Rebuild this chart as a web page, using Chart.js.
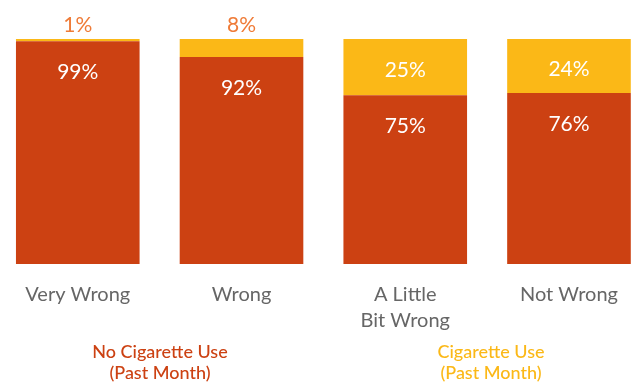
<!DOCTYPE html>
<html lang="en">
<head>
    <meta charset="UTF-8">
    <title>Cigarette Use by Perceived Wrongness</title>
    <script src="https://cdn.jsdelivr.net/npm/chart.js"></script>
    <style>
        body { margin: 0; background: #fff; }
        .wrap { position: relative; width: 636px; height: 385px; }
        .legend {
            position: absolute; top: 341px; width: 220px; text-align: center;
            font-family: Lato, sans-serif; font-size: 18px; font-weight: 500; line-height: 21px;
        }
    </style>
</head>
<body>
    <div class="wrap">
        <canvas id="chart" width="636" height="385"></canvas>
        <div class="legend" style="left: 50px; color: #cc4112;">No Cigarette Use<br>(Past Month)</div>
        <div class="legend" style="left: 381px; color: #fbb817;">Cigarette Use<br>(Past Month)</div>
    </div>

    <script>
        // categories and values (percent)
        const categories = ['Very Wrong', 'Wrong', ['A Little', 'Bit Wrong'], 'Not Wrong'];
        const noUse = [99, 92, 75, 76];
        const use = [1, 8, 25, 24];

        const RED = '#cc4112';
        const YELLOW = '#fbb817';

        // simple inline value labels
        const valueLabels = {
            id: 'valueLabels',
            afterDatasetsDraw(chart) {
                const ctx = chart.ctx;
                ctx.save();
                ctx.font = '21px Lato, sans-serif';
                ctx.textAlign = 'center';
                ctx.textBaseline = 'middle';
                chart.data.datasets.forEach((ds, di) => {
                    chart.getDatasetMeta(di).data.forEach((el, i) => {
                        const v = ds.data[i].y;
                        const txt = v + '%';
                        if (di === 0) {
                            ctx.fillStyle = '#fff';
                            ctx.fillText(txt, el.x, el.y + 31);
                        } else if (v < 10) {
                            ctx.fillStyle = '#ef7b37';
                            ctx.fillText(txt, el.x, el.y - 14);
                        } else {
                            ctx.fillStyle = '#fff';
                            ctx.fillText(txt, el.x, (el.y + el.base) / 2 + 3);
                        }
                    });
                });
                ctx.restore();
            }
        };

        new Chart(document.getElementById('chart'), {
            type: 'bar',
            data: {
                datasets: [
                    {
                        label: 'No Cigarette Use (Past Month)',
                        data: noUse.map((v, i) => ({ x: i, y: v })),
                        backgroundColor: RED
                    },
                    {
                        label: 'Cigarette Use (Past Month)',
                        data: use.map((v, i) => ({ x: i, y: v })),
                        backgroundColor: YELLOW
                    }
                ]
            },
            options: {
                responsive: false,
                animation: false,
                layout: { padding: { top: 39, left: 0, right: 0, bottom: 0 } },
                datasets: { bar: { categoryPercentage: 1, barPercentage: 0.755 } },
                plugins: {
                    legend: { display: false },
                    tooltip: { enabled: false }
                },
                scales: {
                    x: {
                        type: 'linear',
                        stacked: true,
                        offset: false,
                        min: -0.475,
                        max: 3.399,
                        grid: { display: false, drawTicks: false, offset: false },
                        border: { display: false },
                        afterBuildTicks: (scale) => {
                            scale.ticks = categories.map((_, i) => ({ value: i }));
                        },
                        afterFit: (scale) => { scale.height = 121; },
                        ticks: {
                            padding: 18,
                            maxRotation: 0,
                            autoSkip: false,
                            color: '#666',
                            font: { family: 'Lato, sans-serif', size: 20, lineHeight: 1.3 },
                            callback: (v) => categories[v]
                        }
                    },
                    y: {
                        stacked: true,
                        display: false,
                        min: 0,
                        max: 100
                    }
                }
            },
            plugins: [valueLabels]
        });
    </script>
</body>
</html>
